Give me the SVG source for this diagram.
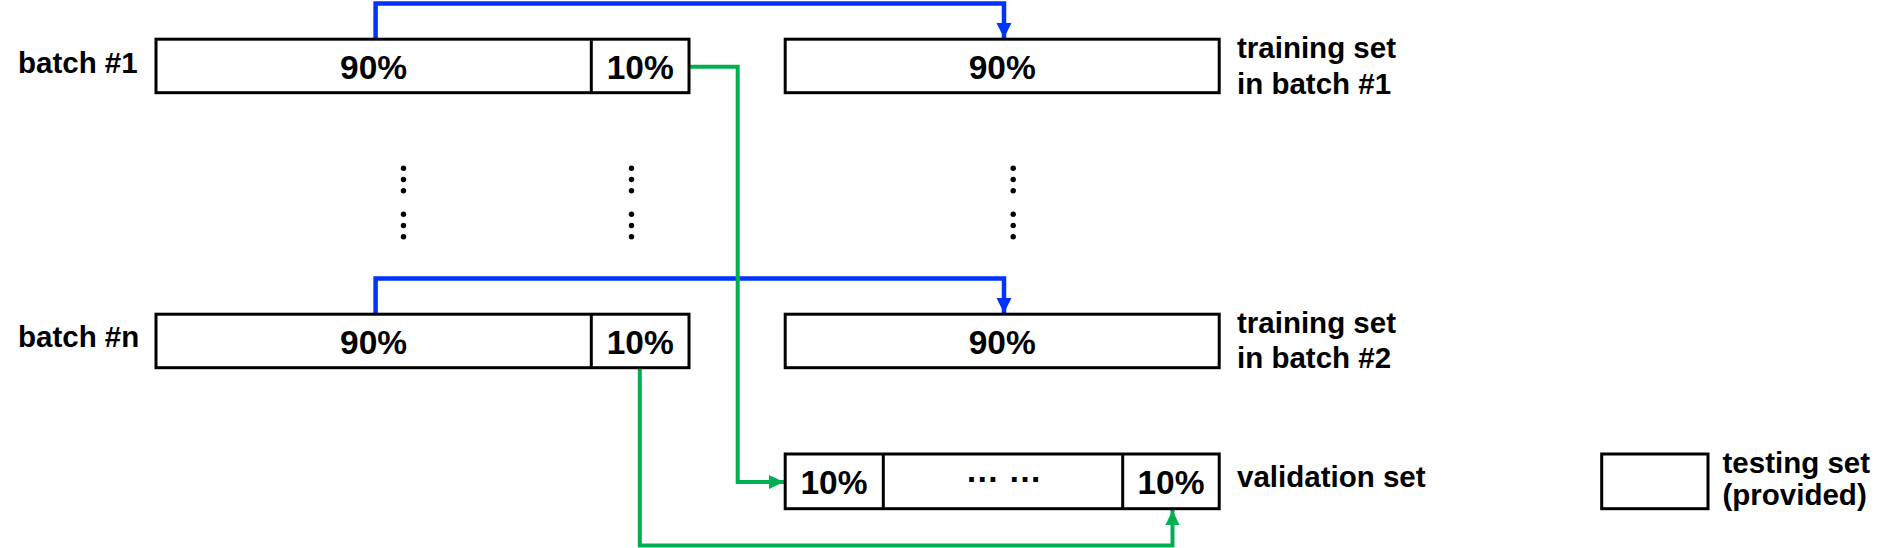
<svg xmlns="http://www.w3.org/2000/svg" width="1888" height="548" viewBox="0 0 1888 548">
<style>
.box{fill:#fff;stroke:#000;stroke-width:3}
.div{stroke:#000;stroke-width:3}
.lbl{font-family:"Liberation Sans",Arial,sans-serif;font-weight:bold;font-size:29.5px;fill:#000}
.pct{font-family:"Liberation Sans",Arial,sans-serif;font-weight:bold;font-size:33.5px;fill:#000;text-anchor:middle}
.blue{fill:none;stroke:#0033FF;stroke-width:4.5}
.green{fill:none;stroke:#00B050;stroke-width:4}
.dot{fill:#000}
</style>
<defs>
<marker id="ab" markerUnits="userSpaceOnUse" markerWidth="16" markerHeight="16" viewBox="0 0 16 16" refX="15" refY="8" orient="auto">
<path d="M0,0.5 L15,8 L0,15.5 Z" fill="#0033FF"/>
</marker>
<marker id="ag" markerUnits="userSpaceOnUse" markerWidth="16" markerHeight="16" viewBox="0 0 16 16" refX="15" refY="8" orient="auto">
<path d="M0,1 L15,8 L0,15 Z" fill="#00B050"/>
</marker>
</defs>
<rect width="1888" height="548" fill="#fff"/>

<g id="connectors">
<path class="blue" d="M375.6,39 V3.5 H1004 V38" marker-end="url(#ab)"/>
<path class="blue" d="M375.6,314 V278.5 H1004 V313" marker-end="url(#ab)"/>
<path class="green" d="M689,66.7 H737.7 V482 H784" marker-end="url(#ag)"/>
<path class="green" d="M639.8,368 V545.5 H1172.5 V510" marker-end="url(#ag)"/>
</g>

<g id="batch1">
<rect class="box" x="156" y="39.2" width="533" height="53.5"/>
<line class="div" x1="591.3" y1="39.2" x2="591.3" y2="92.7"/>
<text class="lbl" x="18" y="73.3">batch #1</text>
<text class="pct" x="373.6" y="78.5">90%</text>
<text class="pct" x="640.2" y="78.5">10%</text>
</g>

<g id="batchn">
<rect class="box" x="156" y="314.2" width="533" height="53.5"/>
<line class="div" x1="591.3" y1="314.2" x2="591.3" y2="367.7"/>
<text class="lbl" x="18" y="346.7">batch #n</text>
<text class="pct" x="373.6" y="353.5">90%</text>
<text class="pct" x="640.2" y="353.5">10%</text>
</g>

<g id="train1">
<rect class="box" x="785.2" y="39.2" width="434" height="53.5"/>
<text class="pct" x="1002.2" y="78.5">90%</text>
<text class="lbl" x="1237" y="58.3">training set</text>
<text class="lbl" x="1237" y="93.5">in batch #1</text>
</g>

<g id="train2">
<rect class="box" x="785.2" y="314.2" width="434" height="53.5"/>
<text class="pct" x="1002.2" y="353.5">90%</text>
<text class="lbl" x="1237" y="333.3">training set</text>
<text class="lbl" x="1237" y="368.3">in batch #2</text>
</g>

<g id="validation">
<rect class="box" x="785.2" y="454" width="434" height="54.7"/>
<line class="div" x1="883.3" y1="454" x2="883.3" y2="508.7"/>
<line class="div" x1="1122.7" y1="454" x2="1122.7" y2="508.7"/>
<text class="pct" x="834" y="493.5">10%</text>
<text class="pct" x="1003.7" y="482" font-size="34">… …</text>
<text class="pct" x="1171" y="493.5">10%</text>
<text class="lbl" x="1237" y="487">validation set</text>
</g>

<g id="testing">
<rect class="box" x="1601.7" y="454" width="106.3" height="54.7"/>
<text class="lbl" x="1722.5" y="473.3">testing set</text>
<text class="lbl" x="1722.5" y="505">(provided)</text>
</g>

<g id="dots">
<circle class="dot" cx="403.5" cy="168.3" r="2.7"/>
<circle class="dot" cx="403.5" cy="179.5" r="2.7"/>
<circle class="dot" cx="403.5" cy="190.7" r="2.7"/>
<circle class="dot" cx="403.5" cy="214.3" r="2.7"/>
<circle class="dot" cx="403.5" cy="225.5" r="2.7"/>
<circle class="dot" cx="403.5" cy="236.7" r="2.7"/>
<circle class="dot" cx="631.5" cy="168.3" r="2.7"/>
<circle class="dot" cx="631.5" cy="179.5" r="2.7"/>
<circle class="dot" cx="631.5" cy="190.7" r="2.7"/>
<circle class="dot" cx="631.5" cy="214.3" r="2.7"/>
<circle class="dot" cx="631.5" cy="225.5" r="2.7"/>
<circle class="dot" cx="631.5" cy="236.7" r="2.7"/>
<circle class="dot" cx="1013.2" cy="168.3" r="2.7"/>
<circle class="dot" cx="1013.2" cy="179.5" r="2.7"/>
<circle class="dot" cx="1013.2" cy="190.7" r="2.7"/>
<circle class="dot" cx="1013.2" cy="214.3" r="2.7"/>
<circle class="dot" cx="1013.2" cy="225.5" r="2.7"/>
<circle class="dot" cx="1013.2" cy="236.7" r="2.7"/>
</g>
</svg>
